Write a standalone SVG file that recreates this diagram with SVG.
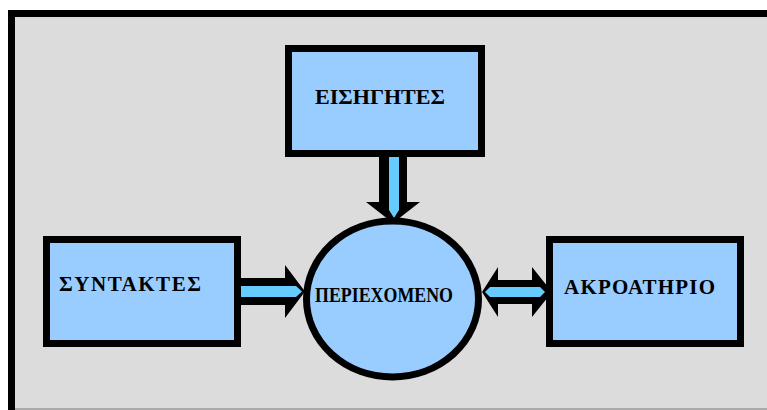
<svg xmlns="http://www.w3.org/2000/svg" width="767" height="410" viewBox="0 0 767 410">
<style>
.box{fill:#99ccff;stroke:#000;stroke-width:7}
.lbl{font-family:"Liberation Serif","DejaVu Serif",serif;font-weight:bold;font-size:21px;fill:#000}
.out{fill:#000}
.in{fill:#66ccff}
</style>
<rect width="767" height="410" fill="#fff"/>
<rect x="11.5" y="13.5" width="800" height="420" fill="#dcdcdc" stroke="#000" stroke-width="7"/>
<line x1="15" y1="409" x2="767" y2="409" stroke="#9a9a9a" stroke-width="1.5"/>
<g id="connectors">
<polygon class="out" points="379,157 407,157 407,202 420,202 393,223 366,202 379,202"/>
<polygon class="in" points="389,155 399,155 399,210 394,218 389,210"/>
<polygon class="out" points="241,278 285,278 285,265 305,291.5 285,318 285,305 241,305"/>
<polygon class="in" points="241,286 296,286 302,291.5 296,297 241,297"/>
<polygon class="out" points="482,292 498,267 498,280 532,280 532,267 552,292 532,317 532,304 498,304 498,317"/>
<polygon class="in" points="485,292 490,287 540,287 545,292 540,297 490,297"/>
</g>
<g id="eisigites">
<rect class="box" x="288.5" y="48.5" width="193" height="105"/>
<text class="lbl" x="315" y="104" textLength="130" lengthAdjust="spacingAndGlyphs">ΕΙΣΗΓΗΤΕΣ</text>
</g>
<g id="syntaktes">
<rect class="box" x="46.5" y="239.5" width="191" height="104"/>
<text class="lbl" x="59" y="291" textLength="142" lengthAdjust="spacing">ΣΥΝΤΑΚΤΕΣ</text>
</g>
<g id="akroatirio">
<rect class="box" x="549.5" y="239.5" width="191" height="104"/>
<text class="lbl" x="564" y="294" textLength="151" lengthAdjust="spacing">ΑΚΡΟΑΤΗΡΙΟ</text>
</g>
<g id="periexomeno">
<ellipse class="box" cx="392.5" cy="299" rx="86" ry="78"/>
<text class="lbl" x="315" y="302" font-size="21" textLength="138" lengthAdjust="spacingAndGlyphs">ΠΕΡΙΕΧΟΜΕΝΟ</text>
</g>
</svg>
